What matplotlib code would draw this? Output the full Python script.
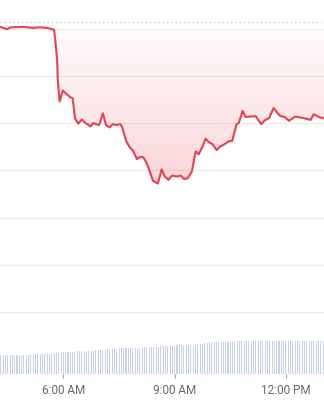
import numpy as np
import matplotlib
matplotlib.use("Agg")
import matplotlib.pyplot as plt

# ---- data ----
# price series: minutes since midnight, price (arbitrary units; gridlines every 1.0)
price_minutes = [258, 269, 274, 295, 311, 322, 334, 342, 345, 347, 350, 351, 354,
                 359, 365, 371, 375, 379, 384, 390, 395, 400, 404, 408, 418, 424,
                 429, 435, 440, 446, 452, 455, 458, 462, 468, 473, 479, 483, 489,
                 494, 500, 505, 513, 519, 524, 530, 536, 544, 550, 555, 561, 568,
                 574, 579, 585, 590, 596, 601, 608, 613, 620, 628, 633, 640, 644,
                 650, 655, 662, 671, 680, 686, 693, 700, 710, 718, 725, 735, 748,
                 760, 765, 773, 782]
price_values = [6.04, 5.99, 6.03, 6.04, 6.02, 6.03, 6.02, 5.99, 5.98, 5.76, 5.34, 4.92,
                4.46, 4.69, 4.62, 4.55, 4.53, 4.10, 3.99, 4.08, 4.01, 3.97, 3.93, 4.00,
                3.96, 4.21, 3.96, 3.91, 3.98, 3.96, 3.98, 3.92, 3.79, 3.61, 3.48, 3.41,
                3.24, 3.28, 3.28, 3.18, 2.97, 2.78, 2.72, 3.02, 2.87, 2.80, 2.89, 2.87,
                2.89, 2.82, 2.83, 2.98, 3.40, 3.34, 3.50, 3.67, 3.59, 3.56, 3.43, 3.50,
                3.55, 3.62, 3.62, 3.97, 4.01, 4.26, 4.13, 4.14, 4.15, 3.98, 4.06, 4.11,
                4.32, 4.16, 4.13, 4.05, 4.14, 4.11, 4.07, 4.19, 4.13, 4.10]
open_value = 6.0
prev_close = 6.14
grid_values = [0, 1, 2, 3, 4, 5, 6]

# volume bars: start minute, interval (minutes), volumes
vol_start = 258
vol_step = 3.75
volumes = [190, 188, 191, 190, 189, 190, 192, 190, 189, 191, 190, 190, 191,
           198, 200, 199, 201, 200, 198, 200, 201, 200, 199,
           210, 211, 209,
           220, 221, 219, 220, 222, 220, 219,
           230, 229, 231, 230, 228, 231, 230, 229,
           240, 241, 239, 240, 242,
           250, 249, 251, 250, 249,
           260, 259, 261, 260, 258, 261, 260, 259, 260, 262,
           270, 269, 271, 270, 268, 271, 270, 269,
           280, 279, 281, 280, 278, 281, 280,
           290, 289, 291, 290, 288, 291, 290, 289,
           300, 301, 299, 302,
           310, 311, 309,
           318, 320, 319, 321, 320, 318, 320, 321, 319, 320,
           333, 332, 334, 333, 331, 334, 333, 332, 333, 334, 332, 333, 333,
           332, 334, 333, 331, 333, 334, 333, 332, 333, 334, 333, 332, 333,
           334, 333, 332, 333, 331, 334, 333, 332, 333, 334, 333, 332, 333]

tick_minutes = [360, 540, 720]
tick_labels = ["6:00 AM", "9:00 AM", "12:00 PM"]

# ---- style ----
LINE = "#e8414f"
GRID = "#ececec"
VOLC = "#c9d3e8"

fig = plt.figure(figsize=(3.24, 4.0), dpi=100)
fig.patch.set_facecolor("white")
ax = fig.add_axes([0, 26 / 400, 1, 374 / 400])
ax.set_xlim(257.6, 781.6)
ax.set_ylim(-1.314, 6.610)
for s in ax.spines.values():
    s.set_visible(False)
ax.set_yticks([])

# gridlines
for g in grid_values:
    ax.axhline(g, color=GRID, lw=0.8, zorder=1)
ax.axhline(prev_close, color="#c4c4c4", lw=0.75, ls=(0, (1.3, 2.8)), zorder=1)

x = np.array(price_minutes, dtype=float)
y = np.array(price_values, dtype=float)

# gradient fill between line and open value
poly = ax.fill_between(x, np.minimum(y, open_value), open_value,
                       facecolor="none", edgecolor="none")
ymin = y.min()
rgb = matplotlib.colors.to_rgb(LINE)
grad = np.zeros((256, 1, 4))
grad[:, 0, 0:3] = rgb
grad[:, 0, 3] = np.linspace(0.02, 0.22, 256)
im = ax.imshow(grad, extent=[x.min(), x.max(), ymin, open_value], origin="upper",
               aspect="auto", zorder=2, interpolation="bilinear")
im.set_clip_path(poly.get_paths()[0], transform=ax.transData)

ax.plot(x, y, color=LINE, lw=1.5, zorder=3, solid_joinstyle="round")

ax.set_xticks(tick_minutes)
ax.set_xticklabels(tick_labels)
ax.tick_params(axis="x", length=3, width=0.8, color="#a0a0a0", labelsize=8.5,
               labelcolor="#6a6a6a", pad=4)
for lbl in ax.get_xticklabels():
    lbl.set_family("Roboto")

# volume axis (volume units: 1 unit = 0.1 px of height)
axv = ax.twinx()
for s in axv.spines.values():
    s.set_visible(False)
axv.set_yticks([])
vx = vol_start + vol_step * np.arange(len(volumes))
axv.bar(vx, volumes, width=vol_step * 0.45, color=VOLC, align="edge", linewidth=0)
axv.set_xlim(ax.get_xlim())
axv.set_ylim(0, 3740)

fig.savefig("out.png", dpi=100, facecolor="white")
